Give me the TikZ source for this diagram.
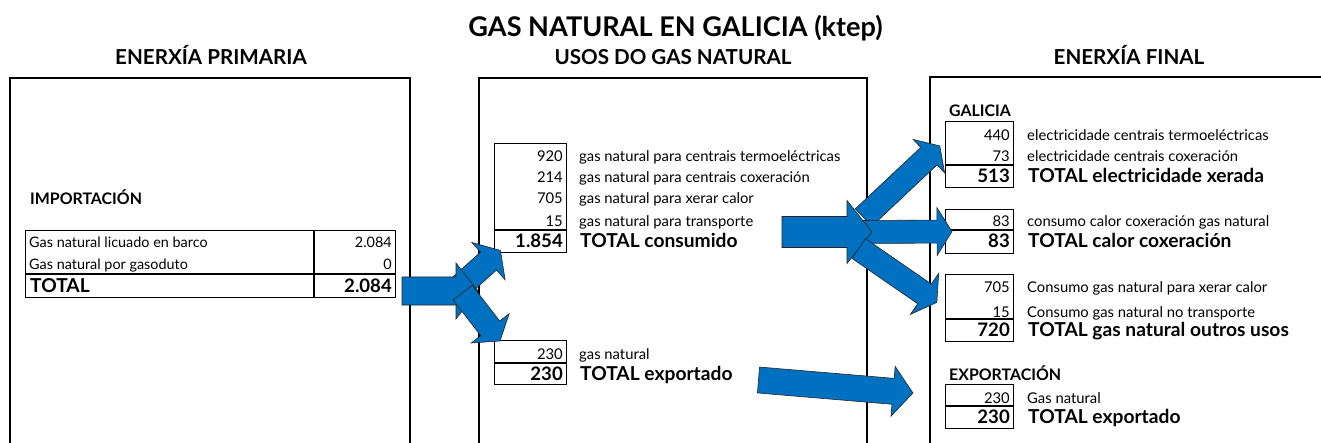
\documentclass[tikz,border=0pt]{standalone}
\usepackage{fontspec}
\setmainfont{Lato}
\usetikzlibrary{calc}
\definecolor{arrowblue}{HTML}{0070C0}
\newcommand\blockarrow[5]{%
  \path let \p1=($(#2)-(#1)$) in \pgfextra{\pgfmathsetmacro\baang{atan2(\y1,\x1)}\pgfmathsetmacro\balen{veclen(\x1,\y1)}\global\let\baang\baang\global\let\balen\balen};
  \draw[barrow, shift={(#1)}, rotate=\baang] (0,#3) -- ({\balen-#5},#3) -- ({\balen-#5},#4) -- (\balen,0) -- ({\balen-#5},-#4) -- ({\balen-#5},-#3) -- (0,-#3) -- cycle;
}
\tikzset{
  panel/.style={draw, line width=1.6pt},
  boxst/.style={draw, line width=1.2pt, anchor=north west, inner sep=0},
  sepline/.style={line width=2pt},
  barrow/.style={fill=arrowblue, draw=black!85, line width=0.6pt, line join=miter},
  lbl/.style={font=\fontsize{14.8}{16}\selectfont, anchor=base west, inner sep=0},
  num/.style={font=\fontsize{14.8}{16}\selectfont, anchor=base east, inner sep=0},
  llbl/.style={font=\fontsize{14.4}{16}\selectfont, anchor=base west, inner sep=0},
  lnum/.style={font=\fontsize{14.4}{16}\selectfont, anchor=base east, inner sep=0},
  tot/.style={font=\bfseries\fontsize{19.2}{21}\selectfont, anchor=base west, inner sep=0},
  totnum/.style={font=\bfseries\fontsize{18.6}{21}\selectfont, anchor=base east, inner sep=0},
  sect/.style={font=\bfseries\fontsize{15.9}{18}\selectfont, anchor=base west, inner sep=0},
  heading/.style={font=\bfseries\fontsize{20.6}{23}\selectfont, anchor=base, inner sep=0},
  titlest/.style={font=\bfseries\fontsize{27.1}{30}\selectfont, anchor=base, inner sep=0},
}
\begin{document}
\begin{tikzpicture}[x=1pt,y=-1pt]
\useasboundingbox (0,0) rectangle (1321,443);
\clip (0,0) rectangle (1321,443);
% titles
\node[titlest] (title) at (675.5,37) {GAS NATURAL EN GALICIA (ktep)};
\node[heading] (h1) at (211,65) {ENERXÍA PRIMARIA};
\node[heading] (h2) at (673,65) {USOS DO GAS NATURAL};
\node[heading] (h3) at (1129,65) {ENERXÍA FINAL};
% panels
\draw[panel] (10,460) -- (10,78) -- (410,78) -- (410,460);
\draw[panel] (479,460) -- (479,78) -- (867,78) -- (867,460);
\draw[panel] (930,460) -- (930,77) -- (1340,77);
% left panel
\node[sect] (imp) at (30,205) {IMPORTACIÓN};
\node[boxst, minimum width=370pt, minimum height=67pt] (ltab) at (25,230) {};
\draw[line width=1.2pt] (314,230) -- (314,297);
\draw[sepline] (25,274) -- (395,274);
\node[llbl] (l1) at (29,248) {Gas natural licuado en barco};
\node[lnum] (l1n) at (392,248) {2.084};
\node[llbl] (l2) at (29,270) {Gas natural por gasoduto};
\node[lnum] (l2n) at (392,270) {0};
\node[tot] (l3) at (30,293) {TOTAL};
\node[totnum] (l3n) at (392,293) {2.084};
% middle panel
\node[boxst, minimum width=72pt, minimum height=109pt] (mb1) at (494,143) {};
\draw[sepline] (494,230) -- (566,230);
\node[num] (m1n) at (563,162) {920};
\node[lbl] (m1) at (579,162) {gas natural para centrais termoeléctricas};
\node[num] (m2n) at (563,183) {214};
\node[lbl] (m2) at (579,183) {gas natural para centrais coxeración};
\node[num] (m3n) at (563,204) {705};
\node[lbl] (m3) at (579,204) {gas natural para xerar calor};
\node[num] (m4n) at (563,227) {15};
\node[lbl] (m4) at (579,227) {gas natural para transporte};
\node[totnum] (m5n) at (563,248) {1.854};
\node[tot] (m5) at (580,248) {TOTAL consumido};
\node[boxst, minimum width=72pt, minimum height=44pt] (mb2) at (494,340) {};
\draw[sepline] (494,363) -- (566,363);
\node[num] (m6n) at (563,359) {230};
\node[lbl] (m6) at (579,359) {gas natural};
\node[totnum] (m7n) at (563,380) {230};
\node[tot] (m7) at (580,380) {TOTAL exportado};
% right panel
\node[sect] (gal) at (949,117) {GALICIA};
\node[boxst, minimum width=68pt, minimum height=66pt] (rb1) at (945,121) {};
\draw[sepline] (945,165) -- (1013,165);
\node[num] (r1n) at (1010,141) {440};
\node[lbl] (r1) at (1027,141) {electricidade centrais termoeléctricas};
\node[num] (r2n) at (1010,162) {73};
\node[lbl] (r2) at (1027,162) {electricidade centrais coxeración};
\node[totnum] (r3n) at (1010,183) {513};
\node[tot] (r3) at (1028,183) {TOTAL electricidade xerada};
\node[boxst, minimum width=68pt, minimum height=44pt] (rb2) at (945,209) {};
\draw[sepline] (945,230) -- (1013,230);
\node[num] (r4n) at (1010,227) {83};
\node[lbl] (r4) at (1027,227) {consumo calor coxeración gas natural};
\node[totnum] (r5n) at (1010,248) {83};
\node[tot] (r5) at (1028,248) {TOTAL calor coxeración};
\node[boxst, minimum width=68pt, minimum height=67pt] (rb3) at (945,274) {};
\draw[sepline] (945,319) -- (1013,319);
\node[num] (r6n) at (1010,293) {705};
\node[lbl] (r6) at (1027,293) {Consumo gas natural para xerar calor};
\node[num] (r7n) at (1010,317) {15};
\node[lbl] (r7) at (1027,317) {Consumo gas natural no transporte};
\node[totnum] (r8n) at (1010,336) {720};
\node[tot] (r8) at (1028,336) {TOTAL gas natural outros usos};
\node[sect] (exp) at (949,380) {EXPORTACIÓN};
\node[boxst, minimum width=68pt, minimum height=44pt] (rb4) at (945,384) {};
\draw[sepline] (945,406) -- (1013,406);
\node[num] (r9n) at (1010,403) {230};
\node[lbl] (r9) at (1027,403) {Gas natural};
\node[totnum] (r10n) at (1010,423) {230};
\node[tot] (r10) at (1028,423) {TOTAL exportado};
% arrow anchor coordinates
\coordinate (L0s) at (402,291);  \coordinate (L0t) at (478,291);
\coordinate (L1s) at (455,291);  \coordinate (L1t) at (500.5,250.4);
\coordinate (L2s) at (462.7,292.7); \coordinate (L2t) at (500,341);
\coordinate (R0s) at (782,232);  \coordinate (R0t) at (872,232);
\coordinate (R1s) at (863.5,217.6); \coordinate (R1t) at (940,145.7);
\coordinate (R2s) at (860,232);  \coordinate (R2t) at (952,231.5);
\coordinate (R3s) at (858.7,248.5); \coordinate (R3t) at (937,302.5);
\coordinate (R4s) at (758.5,380); \coordinate (R4t) at (913,393);
% arrows
\blockarrow{L1s}{L1t}{12}{25}{16}
\blockarrow{L0s}{L0t}{14}{28}{22}
\blockarrow{L2s}{L2t}{12}{24}{16}
\blockarrow{R1s}{R1t}{12}{23}{15}
\blockarrow{R2s}{R2t}{11.5}{24}{15}
\blockarrow{R0s}{R0t}{15.5}{31.5}{25}
\blockarrow{R3s}{R3t}{12}{25}{15}
\blockarrow{R4s}{R4t}{13}{25}{20}
\end{tikzpicture}
\end{document}
